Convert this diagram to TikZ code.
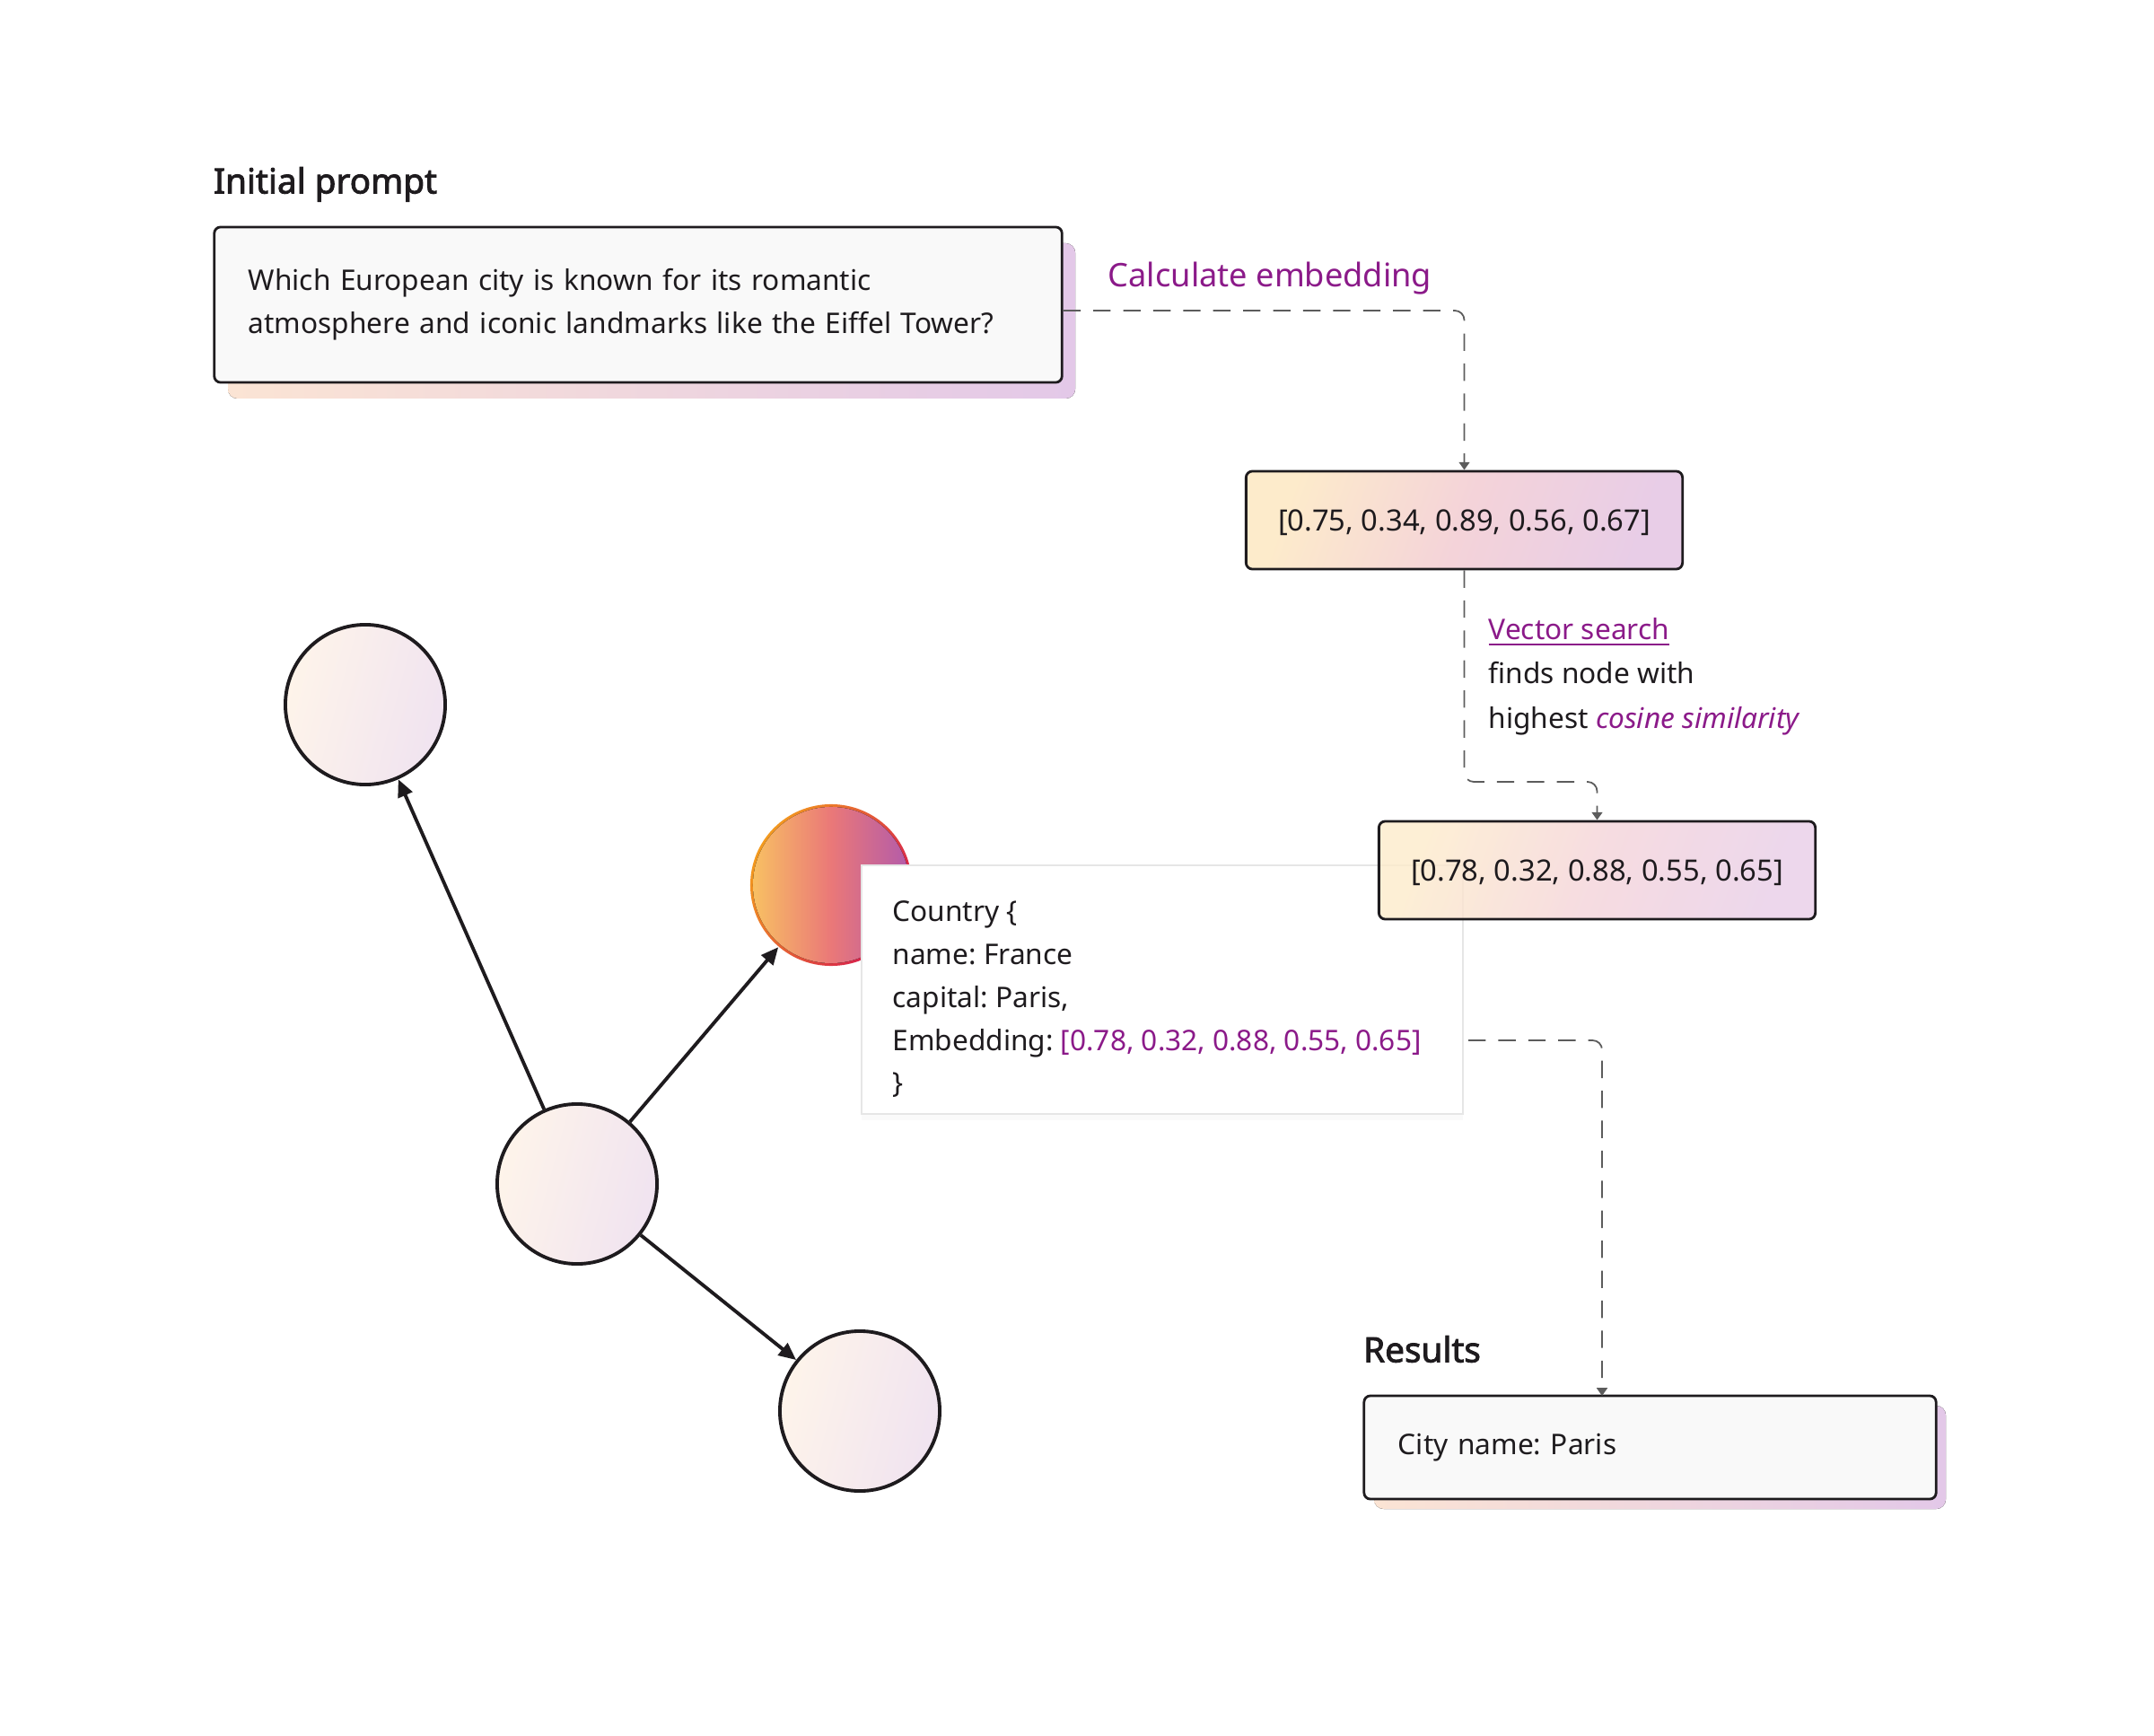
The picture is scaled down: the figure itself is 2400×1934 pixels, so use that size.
\documentclass[tikz,border=0pt]{standalone}
\usepackage{fontspec}
\setmainfont{Noto Sans}[AutoFakeBold=2.2]
\usetikzlibrary{arrows.meta,positioning,shadows}
\frenchspacing

\definecolor{ink}{HTML}{1E1B1E}
\definecolor{purp}{HTML}{8B1A89}
\definecolor{dashgray}{HTML}{5C5C5C}
\definecolor{peach}{HTML}{FDEBCB}
\definecolor{rose}{HTML}{F4D3D9}
\definecolor{lilac}{HTML}{E8CDE7}
\definecolor{paper}{HTML}{F9F9F9}
\definecolor{cream}{HTML}{FEF4EA}
\definecolor{mauve}{HTML}{F0E3F0}
\definecolor{hotorange}{HTML}{F39A1E}
\definecolor{hotred}{HTML}{D51650}
\definecolor{hotyellow}{HTML}{F8C063}
\definecolor{hotpink}{HTML}{EA7878}
\definecolor{hotpurple}{HTML}{B35BAA}
\definecolor{glowa}{HTML}{FBE4D4}
\definecolor{glowb}{HTML}{E3C8E8}
\definecolor{cardline}{HTML}{E6E6E6}

\begin{document}
\begin{tikzpicture}[
  x=0.01cm, y=-0.01cm,
  every node/.style={font=\fontsize{9}{13.6}\selectfont, text=ink},
  heading/.style={font=\fontsize{11}{14}\selectfont\bfseries, inner sep=0pt},
  label/.style={inner sep=0pt, align=left},
  textbox/.style={draw=ink, line width=0.8pt, rounded corners=2pt, fill=paper,
                  align=left, inner xsep=0.38cm},
  vecbox/.style={draw=ink, line width=0.8pt, rounded corners=2pt,
                 font=\fontsize{9.3}{12}\selectfont, text depth=0pt,
                 left color=peach, right color=lilac, middle color=rose, shading angle=70,
                 minimum width=4.86cm, minimum height=1.09cm},
  glow/.style={rounded corners=3pt, left color=glowa, right color=glowb},
  vnode/.style={circle, draw=ink, line width=1.1pt, minimum size=1.78cm,
                left color=cream, right color=mauve, shading angle=75},
  infocard/.style={draw=cardline, line width=0.5pt, fill=white,
                   minimum width=6.70cm, minimum height=2.77cm,
                   drop shadow={shadow xshift=0pt, shadow yshift=-2pt, opacity=0.04}},
  edge/.style={draw=ink, line width=1.1pt, -{Triangle[length=5.5pt,width=4.8pt]}},
  flow/.style={draw=dashgray, line width=0.5pt, dash pattern=on 5.5pt off 4pt,
               rounded corners=3pt, -{Triangle[length=2.5pt,width=3.4pt]}}
]
\useasboundingbox (0,0) rectangle (2400,1934);

% prompt
\fill[glow] (254,271) rectangle (1198,444);
\node[textbox, text width=8.68cm, minimum height=1.73cm] (prompt) at (711,339.5)
  {Which European city is known for its romantic\\ atmosphere and iconic landmarks like the Eiffel Tower?};
\node[heading, above=3.6mm of prompt.north west, anchor=base west] (ptitle) {Initial prompt};

% embeddings
\node[vecbox] (vec1) at (1631.5,579.5) {[0.75, 0.34, 0.89, 0.56, 0.67]};
\node[label, anchor=base west, text=purp, font=\fontsize{10.3}{12}\selectfont] (calc) at (1234,320) {Calculate embedding};
\node[label, anchor=north west, font=\fontsize{9}{14}\selectfont] (vslabel) at (1658,688)
  {\textcolor{purp}{\underline{Vector search}}\\ finds node with\\ highest \textcolor{purp}{\itshape cosine similarity}};

% graph
\node[vnode] (n1) at (407,785) {};
\node[vnode] (n2) at (643,1319) {};
\node[vnode] (n4) at (958,1572) {};
\node[circle, minimum size=1.80cm, left color=hotorange, right color=hotred, shading angle=60] (n3) at (926,986) {};
\fill[left color=hotyellow, right color=hotpurple, middle color=hotpink] (n3) circle (0.87cm);

\draw[edge] (n2) -- (n1);
\draw[edge] (n2) -- (n3);
\draw[edge] (n2) -- (n4);

% matched node
\node[infocard] (card) at (1295,1102.5) {};
\node[label, anchor=north west] (fields) at ([shift={(35,40)}]card.north west)
  {Country \{\\ name: France\\ capital: Paris,\\ Embedding: \textcolor{purp}{[0.78, 0.32, 0.88, 0.55, 0.65]}\\ \}};
\node[vecbox, fill opacity=0.8, text opacity=1] (vec2) at (1779.5,969.5) {[0.78, 0.32, 0.88, 0.55, 0.65]};

% results
\fill[glow] (1531,1566) rectangle (2168,1681);
\node[textbox, text width=5.61cm, minimum height=1.15cm] (res) at (1838.5,1612.5) {City name: Paris};
\node[heading, above=3.6mm of res.north west, anchor=base west] (rtitle) {Results};

% connectors
\coordinate (turn) at (1631.5,871);
\coordinate (embout) at (1636,1159);
\coordinate (resin) at (1785,1555);
\draw[flow] ([yshift=-0.65mm]prompt.east) -| (vec1.north);
\draw[flow] (vec1.south) -- (turn) -| (vec2.north);
\draw[flow] (embout) -| (resin);
\end{tikzpicture}
\end{document}
